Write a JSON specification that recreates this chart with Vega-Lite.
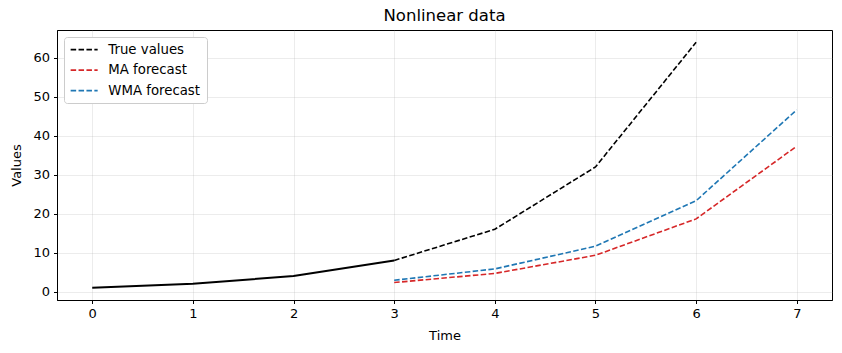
{
  "$schema": "https://vega.github.io/schema/vega-lite/v6.json",
  "width": 775,
  "height": 270,
  "autosize": {"type": "none"},
  "padding": {"left": 57, "top": 30, "right": 10, "bottom": 53},
  "background": "white",
  "title": {"text": "Nonlinear data", "fontSize": 16.5, "font": "DejaVu Sans", "fontWeight": "normal", "color": "black", "offset": 6, "anchor": "middle"},
  "config": {
    "font": "DejaVu Sans",
    "view": {"stroke": "black", "strokeWidth": 1},
    "axis": {
      "domainColor": "black", "domainWidth": 1,
      "tickColor": "black", "tickSize": 3.5, "tickWidth": 1,
      "labelColor": "black", "labelFontSize": 13, "labelFont": "DejaVu Sans",
      "titleColor": "black", "titleFontSize": 13, "titleFont": "DejaVu Sans", "titleFontWeight": "normal",
      "gridColor": "#b0b0b0", "gridOpacity": 0.3, "gridWidth": 0.8
    }
  },
  "data": {"values": [
    {"t": 0, "v": 1, "series": "History"},
    {"t": 1, "v": 2, "series": "History"},
    {"t": 2, "v": 4, "series": "History"},
    {"t": 3, "v": 8, "series": "History"},
    {"t": 3, "v": 8, "series": "True values"},
    {"t": 4, "v": 16, "series": "True values"},
    {"t": 5, "v": 32, "series": "True values"},
    {"t": 6, "v": 64, "series": "True values"},
    {"t": 3, "v": 2.33, "series": "MA forecast"},
    {"t": 4, "v": 4.67, "series": "MA forecast"},
    {"t": 5, "v": 9.33, "series": "MA forecast"},
    {"t": 6, "v": 18.67, "series": "MA forecast"},
    {"t": 7, "v": 37.33, "series": "MA forecast"},
    {"t": 3, "v": 2.92, "series": "WMA forecast"},
    {"t": 4, "v": 5.83, "series": "WMA forecast"},
    {"t": 5, "v": 11.67, "series": "WMA forecast"},
    {"t": 6, "v": 23.33, "series": "WMA forecast"},
    {"t": 7, "v": 46.67, "series": "WMA forecast"}
  ]},
  "layer": [
    {
      "transform": [{"filter": "datum.series === 'History'"}],
      "mark": {"type": "line", "color": "black", "strokeWidth": 2},
      "encoding": {
        "x": {"field": "t", "type": "quantitative", "scale": {"domain": [-0.35, 7.35], "nice": false, "zero": false},
              "axis": {"title": "Time", "values": [0,1,2,3,4,5,6,7], "format": "d", "grid": true, "titlePadding": 9, "labelPadding": 4}},
        "y": {"field": "v", "type": "quantitative", "scale": {"domain": [-2.15, 67.15], "nice": false, "zero": false},
              "axis": {"title": "Values", "values": [0,10,20,30,40,50,60], "format": "d", "grid": true, "titlePadding": 9, "labelPadding": 4}}
      }
    },
    {
      "transform": [{"filter": "datum.series !== 'History'"}],
      "mark": {"type": "line", "strokeWidth": 1.6, "strokeDash": [5.5, 2.4]},
      "encoding": {
        "x": {"field": "t", "type": "quantitative"},
        "y": {"field": "v", "type": "quantitative"},
        "color": {"field": "series", "type": "nominal",
          "scale": {"domain": ["True values", "MA forecast", "WMA forecast"], "range": ["black", "#d62728", "#1f77b4"]},
          "legend": {"title": null, "orient": "top-left", "offset": 7, "padding": 6,
            "fillColor": "white", "strokeColor": "#cccccc", "cornerRadius": 3,
            "symbolType": "M-1.2,0H4.2", "symbolSize": 100, "symbolStrokeWidth": 1.6, "symbolDash": [5.5, 2.4],
            "labelFontSize": 13.3, "labelFont": "DejaVu Sans", "labelColor": "black", "labelOffset": 25, "rowPadding": 6.5}
        }
      }
    }
  ]
}
